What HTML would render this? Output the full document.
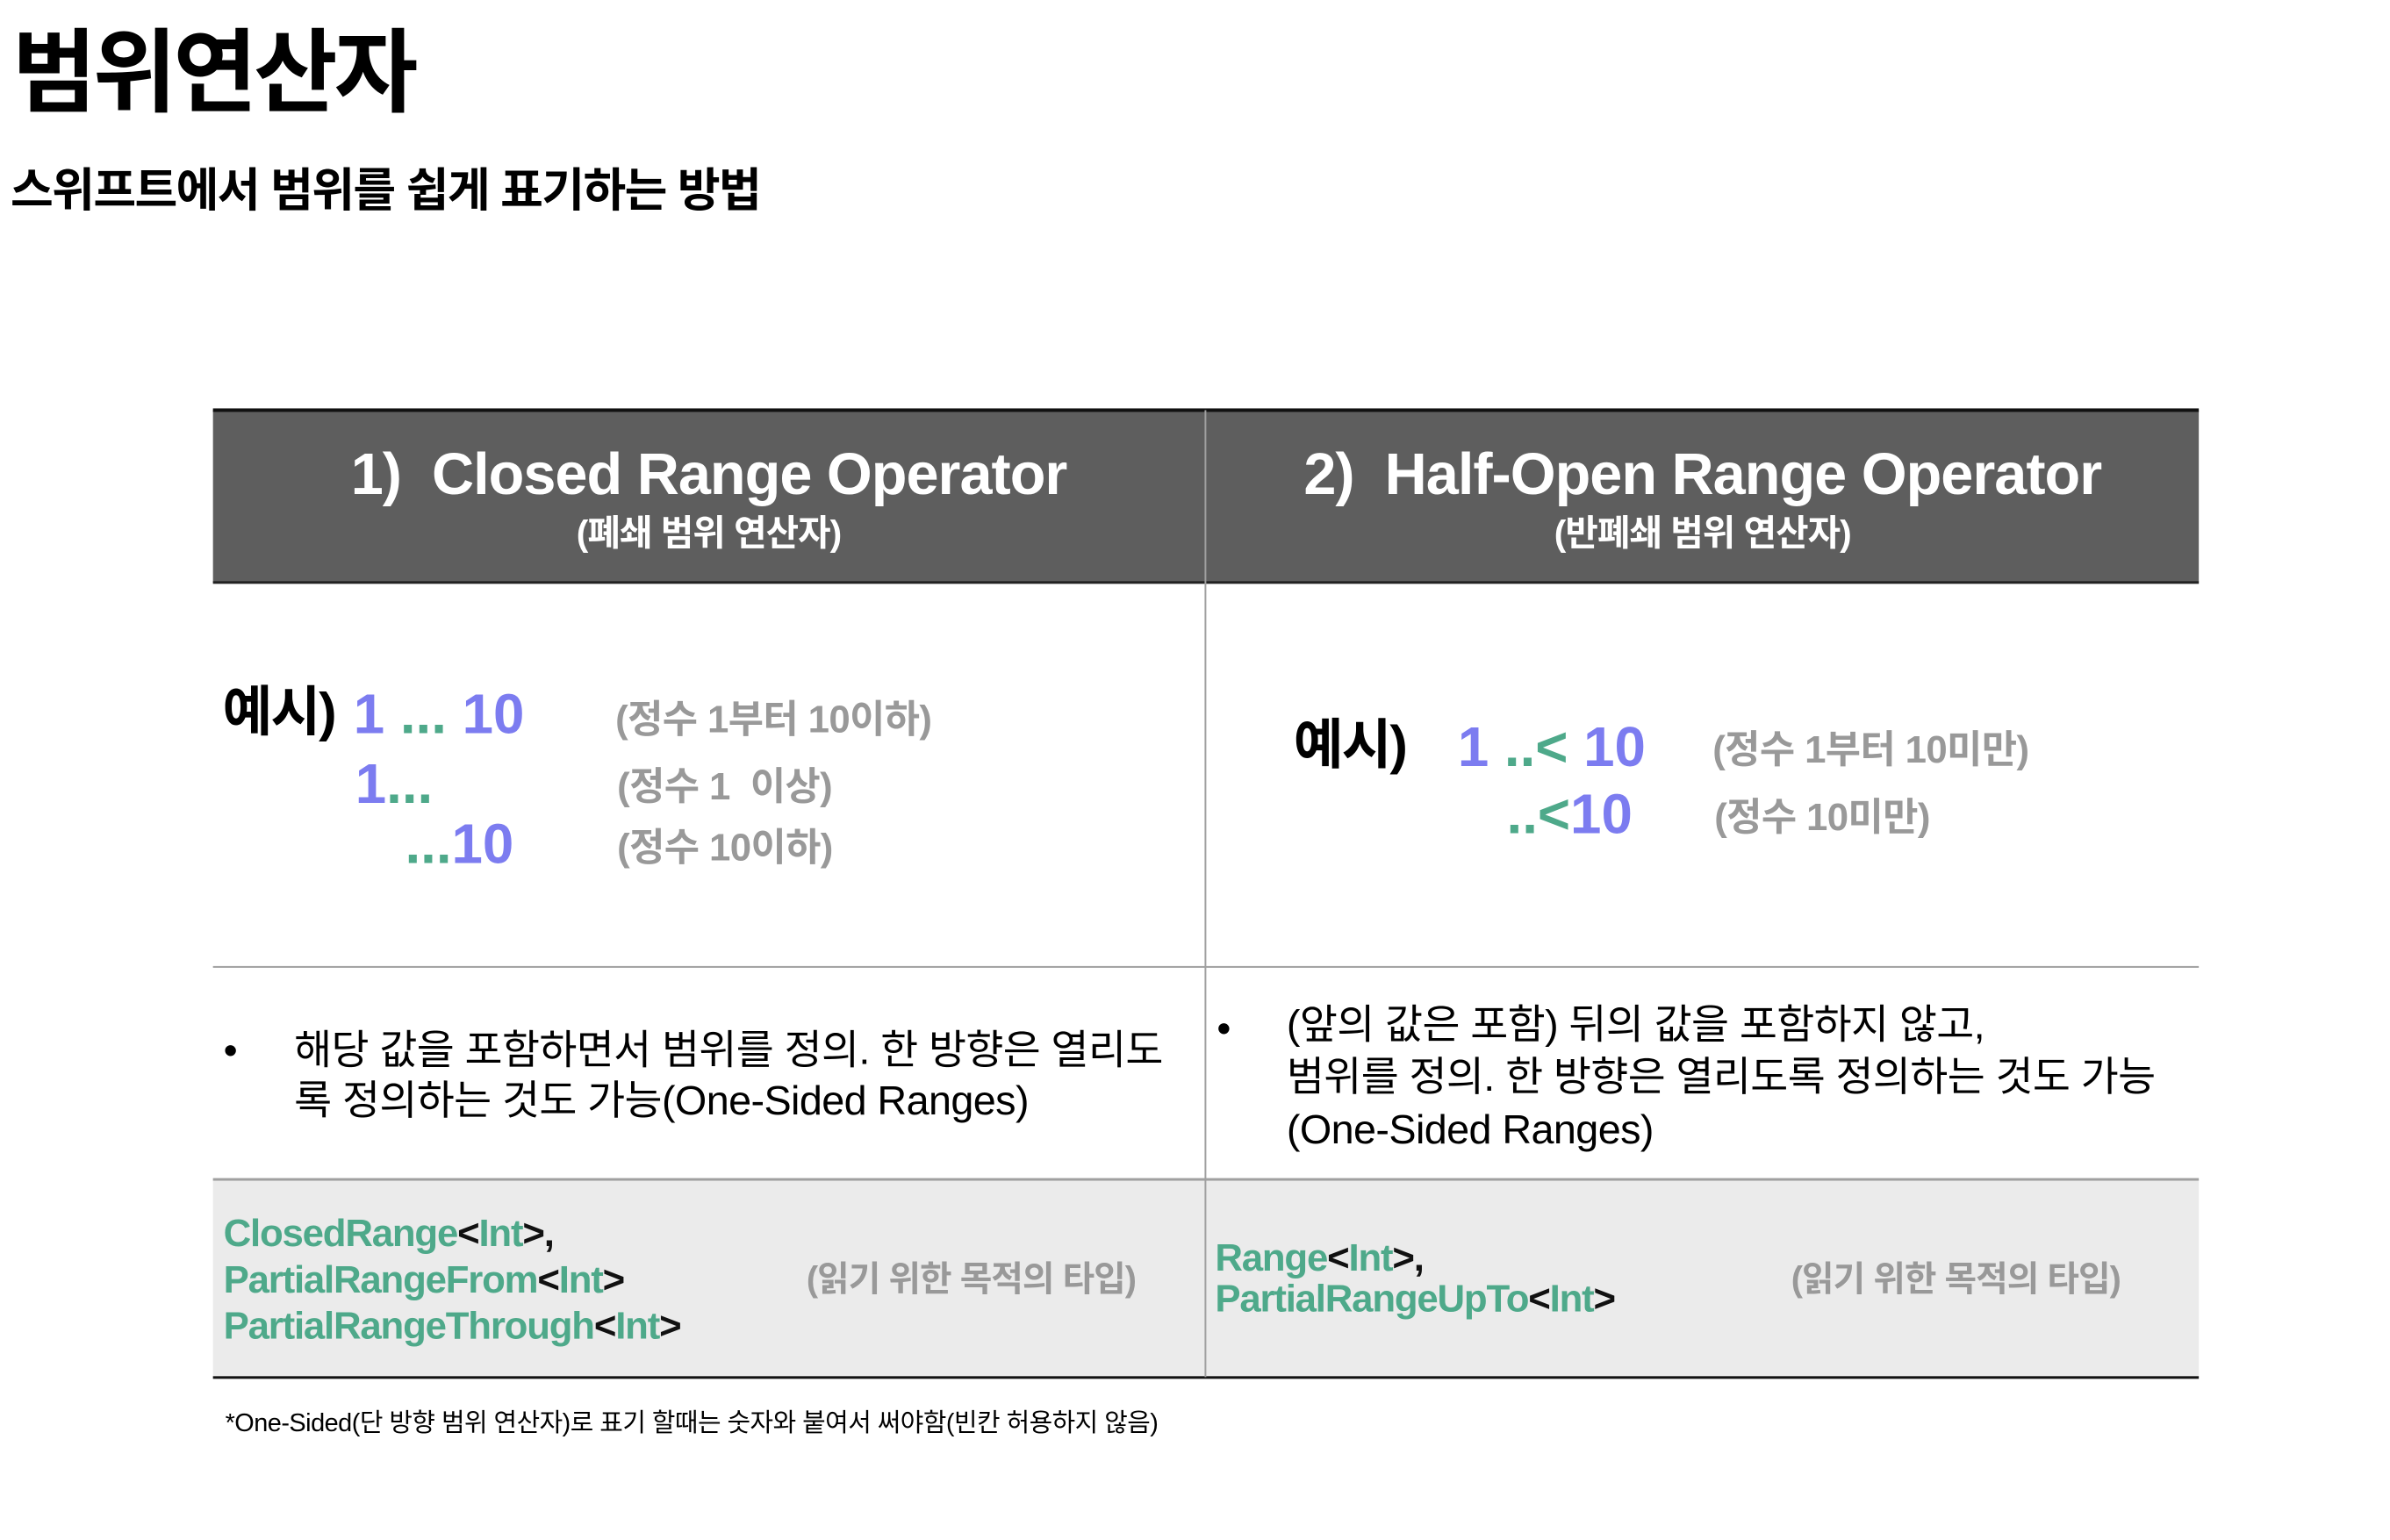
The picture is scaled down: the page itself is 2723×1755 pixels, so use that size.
<!DOCTYPE html>
<html><head><meta charset="utf-8"><style>
body{margin:0;width:2723px;height:1755px;background:#fff;position:relative;overflow:hidden;font-family:"Liberation Sans","Noto Sans CJK KR",sans-serif}
.a{position:absolute;white-space:nowrap;line-height:1.2}
.b{font-weight:bold}
.bl{color:#7c7cf0}.gr{color:#4ea98a}.gy{color:#999}.k{color:#111}
.line{position:absolute;left:244px;width:2275px}
#wrap{position:absolute;left:0;top:0;width:2723px;height:1755px;transform:scale(0.9945);transform-origin:0 0}
.t{position:relative;top:4px}
</style></head><body>
<div class="a b" style="left:14px;top:22px;font-size:104px;letter-spacing:-4px">범위연산자</div>
<div class="a b" style="left:12px;top:186px;font-size:53px;letter-spacing:-1.6px">스위프트에서 범위를 쉽게 표기하는 방법</div>
<div id="wrap">
<div style="position:absolute;left:244px;top:470px;width:2275px;height:198px;background:#5e5e5e"></div>
<div class="line" style="top:468px;height:4px;background:#111"></div>
<div class="line" style="top:666px;height:3px;background:#222"></div>
<div style="position:absolute;left:244px;top:1351px;width:2275px;height:227px;background:#ebebeb"></div>
<div class="line" style="top:1107px;height:2px;background:#a0a0a0"></div>
<div class="line" style="top:1350px;height:3px;background:#a0a0a0"></div>
<div class="line" style="top:1577px;height:3px;background:#111"></div>
<div style="position:absolute;left:1380px;top:470px;width:2px;height:1108px;background:#a0a0a0"></div>

<div class="a b" style="left:244px;width:1136px;text-align:center;top:504px;font-size:67px;color:#fff;letter-spacing:-1px">1)&nbsp; Closed Range Operator</div>
<div class="a b" style="left:244px;width:1136px;text-align:center;top:587px;font-size:41px;color:#fff;letter-spacing:-1px">(폐쇄 범위 연산자)</div>
<div class="a b" style="left:1382px;width:1137px;text-align:center;top:504px;font-size:67px;color:#fff;letter-spacing:-1px">2)&nbsp; Half-Open Range Operator</div>
<div class="a b" style="left:1382px;width:1137px;text-align:center;top:587px;font-size:41px;color:#fff;letter-spacing:-1px">(반폐쇄 범위 연산자)</div>

<div class="a b" style="left:255px;top:780px;font-size:62px;letter-spacing:-2px">예시)</div>
<div class="a b bl" style="left:405px;top:780px;font-size:64px">1 <span class="gr">...</span> 10</div>
<div class="a b gy" style="left:705px;top:799px;font-size:44px;letter-spacing:-0.6px">(정수 1부터 10이하)</div>
<div class="a b bl" style="left:407px;top:860px;font-size:64px">1<span class="gr">...</span></div>
<div class="a b gy" style="left:707px;top:876px;font-size:44px;letter-spacing:-0.6px">(정수 1&nbsp; 이상)</div>
<div class="a b bl" style="left:464px;top:929px;font-size:64px"><span class="gr">...</span>10</div>
<div class="a b gy" style="left:707px;top:946px;font-size:44px;letter-spacing:-0.6px">(정수 10이하)</div>

<div class="a b" style="left:1482px;top:818px;font-size:62px;letter-spacing:-2px">예시)</div>
<div class="a b bl" style="left:1670px;top:818px;font-size:64px">1 <span class="gr">..&lt;</span> 10</div>
<div class="a b gy" style="left:1962px;top:834px;font-size:44px;letter-spacing:-0.6px">(정수 1부터 10미만)</div>
<div class="a b bl" style="left:1726px;top:895px;font-size:64px"><span class="gr">..&lt;</span>10</div>
<div class="a b gy" style="left:1964px;top:911px;font-size:44px;letter-spacing:-0.6px">(정수 10미만)</div>

<div class="a" style="left:256px;top:1176px;font-size:46px">•</div>
<div class="a" style="left:337px;top:1174px;font-size:47px;line-height:58px;letter-spacing:-0.6px">해당 값을 포함하면서 범위를 정의. 한 방향은 열리도<br>록 정의하는 것도 가능(One-Sided Ranges)</div>
<div class="a" style="left:1394px;top:1151px;font-size:46px">•</div>
<div class="a" style="left:1474px;top:1144px;font-size:47px;line-height:60px;letter-spacing:-0.6px">(앞의 값은 포함) 뒤의 값을 포함하지 않고,<br>범위를 정의. 한 방향은 열리도록 정의하는 것도 가능<br>(One-Sided Ranges)</div>

<div class="a b gr" style="left:256px;top:1387px;font-size:44px;line-height:53px;letter-spacing:-1.2px">ClosedRange<span class="k">&lt;</span>Int<span class="k">&gt;,</span><br>PartialRangeFrom<span class="k">&lt;</span>Int<span class="k">&gt;</span><br>PartialRangeThrough<span class="k">&lt;</span>Int<span class="k">&gt;</span></div>
<div class="a b gy" style="left:924px;top:1442px;font-size:40px;letter-spacing:-1px">(읽기 위한 목적의 타입)</div>
<div class="a b gr" style="left:1392px;top:1418px;font-size:44px;line-height:47px;letter-spacing:-1.2px">Range<span class="k">&lt;</span>Int<span class="k">&gt;,</span><br>PartialRangeUpTo<span class="k">&lt;</span>Int<span class="k">&gt;</span></div>
<div class="a b gy" style="left:2052px;top:1442px;font-size:40px;letter-spacing:-1px">(읽기 위한 목적의 타입)</div>

<div class="a" style="left:258px;top:1614px;font-size:29px;letter-spacing:-0.5px">*One-Sided(단 방향 범위 연산자)로 표기 할때는 숫자와 붙여서 써야함(빈칸 허용하지 않음)</div>
</div>
</body></html>
